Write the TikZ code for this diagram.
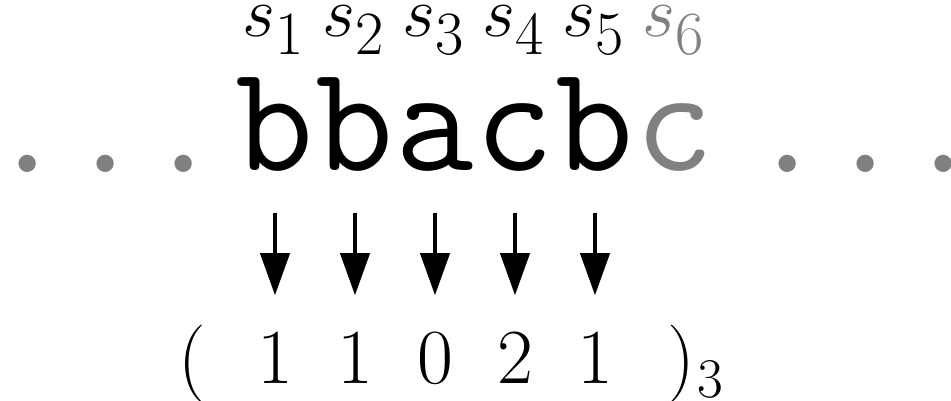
\RequirePackage{fix-cm}
\documentclass[tikz,border=0pt]{standalone}
\usetikzlibrary{arrows.meta}
\newcommand\sidx[1]{$s$\raisebox{-14.6pt}{\fontsize{50}{50}\selectfont #1}}
\tikzset{
  lettr/.style={font=\fontsize{152}{152}\selectfont\ttfamily, anchor=base, inner sep=0pt},
  digit/.style={font=\fontsize{78}{78}\selectfont, anchor=base, inner sep=0pt},
  subdig/.style={font=\fontsize{56}{56}\selectfont, anchor=base, inner sep=0pt},
  slab/.style={font=\fontsize{58}{58}\selectfont, anchor=base, inner sep=0pt, scale=1.23},
  dotsn/.style={font=\fontsize{178}{178}\selectfont, anchor=base, inner sep=0pt, text=gray},
  faded/.style={text=gray},
  arr/.style={line width=4pt, -{Triangle[width=29pt,length=42pt]}, shorten <=41pt, shorten >=36pt}
}
\begin{document}
\begin{tikzpicture}[x=1pt,y=-1pt]
\useasboundingbox (0,0) rectangle (951,401);
% index labels
\node[slab] (s1) at (273,37) {\sidx{1}};
\node[slab] (s2) at (353,37) {\sidx{2}};
\node[slab] (s3) at (433,37) {\sidx{3}};
\node[slab] (s4) at (513,37) {\sidx{4}};
\node[slab] (s5) at (593,37) {\sidx{5}};
\node[slab,faded] (s6) at (673,37) {\sidx{6}};
% dots
\node[dotsn] (dl) at (106,172) {$\ldots$};
\node[dotsn] (dr) at (866,172) {$\ldots$};
% letters
\node[lettr] (l1) at (275,171) {b};
\node[lettr] (l2) at (355,171) {b};
\node[lettr] (l3) at (435,171) {a};
\node[lettr] (l4) at (515,171) {c};
\node[lettr] (l5) at (595,171) {b};
\node[lettr,faded] (l6) at (675,171) {c};
% digits
\node[digit] (po) at (192,383) {(};
\node[digit] (d1) at (275,383) {1};
\node[digit] (d2) at (355,383) {1};
\node[digit] (d3) at (435,383) {0};
\node[digit] (d4) at (515,383) {2};
\node[digit] (d5) at (595,383) {1};
\node[digit] (pc) at (681,383) {)};
\node[subdig] (base) at (710,397) {3};
% arrows
\draw[arr] (l1.south) -- (d1.north);
\draw[arr] (l2.south) -- (d2.north);
\draw[arr] (l3.south) -- (d3.north);
\draw[arr] (l4.south) -- (d4.north);
\draw[arr] (l5.south) -- (d5.north);
\end{tikzpicture}
\end{document}
